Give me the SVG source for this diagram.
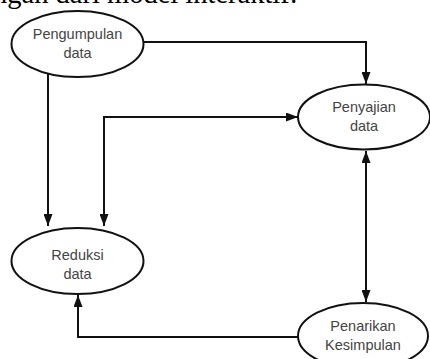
<svg xmlns="http://www.w3.org/2000/svg" width="430" height="359" viewBox="0 0 430 359">
<style>
.node ellipse{fill:#fff;stroke:#111;stroke-width:2}
.node text{font-family:"Liberation Sans",Arial,sans-serif;font-size:14.5px;fill:#444;text-anchor:middle}
.conn path{fill:none;stroke:#111;stroke-width:2}
.cap{font-family:"Liberation Serif","Times New Roman",serif;font-size:28.5px;fill:#000}
</style>
<defs>
<marker id="ah" viewBox="0 0 12 9" refX="12" refY="4.5" markerWidth="12" markerHeight="9" markerUnits="userSpaceOnUse" orient="auto-start-reverse">
<path d="M0,0 L12,4.5 L0,9 z" fill="#111"/>
</marker>
</defs>
<rect width="430" height="359" fill="#fff"/>
<text class="cap" x="-7" y="3">ngan dari model interaktif:</text>
<g class="conn">
<path d="M144,42 H366 V84" marker-end="url(#ah)"/>
<path d="M48,74 V226" marker-end="url(#ah)"/>
<path d="M104,226 V117 H298" marker-start="url(#ah)" marker-end="url(#ah)"/>
<path d="M366,151 V302" marker-start="url(#ah)" marker-end="url(#ah)"/>
<path d="M298,337 H78 V295" marker-end="url(#ah)"/>
</g>
<g id="pengumpulan" class="node">
<ellipse cx="77.5" cy="44" rx="66" ry="33"/>
<text x="77.5" y="39">Pengumpulan</text>
<text x="77.5" y="58">data</text>
</g>
<g id="penyajian" class="node">
<ellipse cx="364" cy="117" rx="66" ry="32.5"/>
<text x="364" y="112">Penyajian</text>
<text x="364" y="131">data</text>
</g>
<g id="reduksi" class="node">
<ellipse cx="77.5" cy="261" rx="66" ry="33"/>
<text x="77.5" y="260">Reduksi</text>
<text x="77.5" y="279">data</text>
</g>
<g id="penarikan" class="node">
<ellipse cx="363" cy="336" rx="65" ry="33"/>
<text x="363" y="331">Penarikan</text>
<text x="363" y="350">Kesimpulan</text>
</g>
</svg>
